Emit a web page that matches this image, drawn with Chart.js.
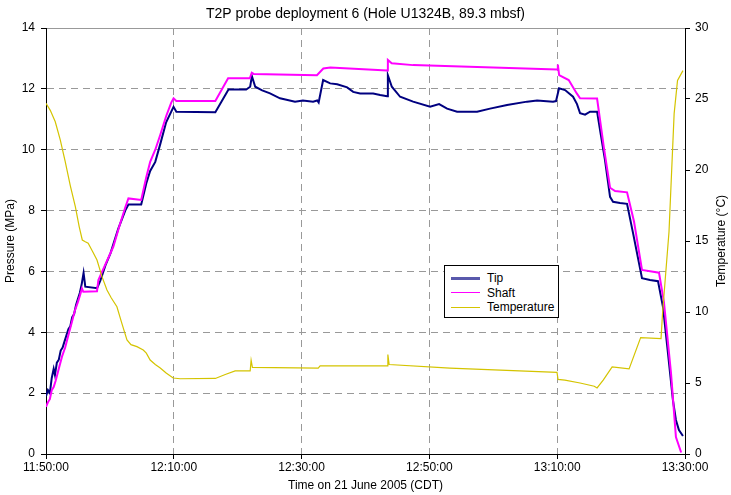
<!DOCTYPE html>
<html>
<head>
<meta charset="utf-8">
<script src="https://cdn.jsdelivr.net/npm/chart.js@4/dist/chart.umd.min.js"></script>
<style>
  html, body { margin: 0; padding: 0; background: #fff; }
  #wrap { position: relative; width: 731px; height: 495px; }
  #legend { position: absolute; left: 444px; top: 265px; width: 113px; height: 51px;
            border: 1px solid #000; background: #fff; font: 12px "Liberation Sans", Arial, sans-serif; color: #000; }
  .item { position: absolute; left: 0; height: 14px; line-height: 14px; white-space: nowrap; }
  .item .sw { position: absolute; left: 6px; width: 29px; }
  .item .tx { position: absolute; left: 42px; top: 0; }
</style>
</head>
<body>
<div id="wrap">
  <canvas id="c" width="731" height="495"></canvas>
  <div id="legend"></div>
</div>
<script>
const chartTitle = 'T2P probe deployment 6 (Hole U1324B, 89.3 mbsf)';
const xAxisTitle = 'Time on 21 June 2005 (CDT)';
const leftAxisTitle = 'Pressure (MPa)';
const rightAxisTitle = 'Temperature (\u00B0C)';
const timeTickLabels = ['11:50:00', '12:10:00', '12:30:00', '12:50:00', '13:10:00', '13:30:00'];
const seriesNames = ['Tip', 'Shaft', 'Temperature'];

// minutes after 11:50:00
const tipMinutes = [0,0.3,0.6,0.9,1.2,1.4,1.7,2.0,2.3,2.6,2.9,3.2,3.5,3.8,4.1,4.4,4.7,5.0,5.3,5.6,5.88,6.15,8.0,8.5,9.3,10.1,11.3,12.4,12.9,14.9,15.7,16.3,17.1,17.9,18.8,19.96,20.4,26.5,28.56,31.33,31.95,32.22,32.74,33.83,35.06,36.62,38.97,40.2,41.8,42.44,42.67,43.37,44.47,45.57,47.13,48.07,49.16,51.2,52.29,53.39,53.5,54.12,55.42,57.45,60.11,61.52,62.77,64.33,67.46,69.49,72.15,75.28,76.85,79.35,79.82,80.29,81.23,82.48,83.1,83.58,84.36,85.14,86.24,86.7,87.48,88.27,88.74,89.83,90.93,91.87,93.27,94.52,95.77,96.55,97.33,98.11,98.58,99.05,99.68];
const tipMPa = [1.9,2.1,2.0,2.5,2.8,2.6,3.0,3.1,3.4,3.5,3.7,3.9,4.1,4.2,4.5,4.6,4.9,5.1,5.3,5.6,5.95,5.5,5.45,5.7,6.2,6.6,7.4,8.0,8.2,8.2,8.9,9.3,9.6,10.2,10.9,11.41,11.25,11.23,11.98,11.98,12.07,12.42,12.07,11.95,11.85,11.69,11.58,11.62,11.58,11.62,11.55,12.29,12.18,12.15,12.05,11.9,11.85,11.85,11.8,11.76,12.45,12.07,11.74,11.58,11.41,11.5,11.35,11.25,11.25,11.35,11.47,11.58,11.62,11.58,11.6,12.02,11.96,11.74,11.5,11.2,11.15,11.25,11.25,10.65,9.66,8.45,8.29,8.25,8.22,7.26,5.78,5.72,5.68,4.84,3.32,1.77,1.12,0.79,0.59];

const shaftMinutes = [0,0.3,0.6,0.9,1.2,1.5,2.0,2.5,3.0,3.5,4.0,4.5,5.0,5.3,5.63,5.84,7.98,8.2,10.53,11.5,12.4,12.9,14.9,15.7,16.3,17.1,17.9,18.8,19.6,19.96,20.4,26.5,28.5,31.9,32.2,32.5,42.4,43.4,44.5,53.4,53.5,54.1,57.45,80.0,80.1,80.3,81.8,83.06,83.58,86.24,87.3,88.27,89.06,90.93,92.02,93.27,95.93,96.7,97.81,98.58,99.4];
const shaftMPa = [1.55,1.7,1.8,2.1,2.2,2.4,2.8,3.2,3.5,3.9,4.3,4.7,5.0,5.2,5.44,5.33,5.35,5.72,6.81,7.5,8.1,8.4,8.35,9.1,9.6,10.0,10.5,11.1,11.55,11.69,11.6,11.6,12.35,12.35,12.53,12.49,12.45,12.67,12.7,12.6,12.95,12.84,12.78,12.64,12.8,12.45,12.29,11.85,11.69,11.68,10.08,8.75,8.64,8.6,7.64,6.05,5.96,5.0,2.66,0.56,0.05];

const tempMinutes = [0,0.67,1.45,2.24,3.0,3.8,4.6,5.2,5.68,6.15,6.6,7.25,7.98,8.76,9.54,10.2,11.1,11.8,12.67,13.3,14.23,15.22,15.7,16.3,17.1,17.88,18.8,19.9,21.0,26.5,28.05,29.6,31.95,32.1,32.3,42.6,42.9,53.4,53.5,53.7,63.2,79.97,80.13,81.2,83.58,85.8,86.24,87.2,88.6,91.25,93.06,96.25,96.5,97.5,98.3,98.83,99.68];
const tempC = [24.7,24.2,23.4,22.1,20.6,18.9,17.4,16.0,15.07,14.95,14.85,14.3,13.66,12.49,11.55,11.0,10.37,9.3,8.03,7.7,7.56,7.32,7.1,6.62,6.3,6.06,5.7,5.35,5.3,5.32,5.6,5.85,5.85,6.6,6.1,6.05,6.2,6.2,7.0,6.3,6.05,5.75,5.25,5.2,5.0,4.77,4.65,5.2,6.13,5.99,8.2,8.13,10.0,15.67,23.97,26.3,27.0];

const pts = (xs, ys) => xs.map((x, i) => ({ x: x, y: ys[i] }));
const FONT = '"Liberation Sans", Arial, sans-serif';
Chart.defaults.font.family = FONT;
Chart.defaults.color = '#000';

const rightTitlePlugin = {
  id: 'rightTitle',
  afterDraw(chart) {
    const { ctx, chartArea } = chart;
    ctx.save();
    ctx.font = '12px ' + FONT;
    ctx.fillStyle = '#000';
    ctx.textAlign = 'center';
    ctx.textBaseline = 'middle';
    ctx.translate(722, (chartArea.top + chartArea.bottom) / 2);
    ctx.rotate(-Math.PI / 2);
    ctx.fillText(rightAxisTitle, 0, 0);
    ctx.restore();
  }
};

const chart = new Chart(document.getElementById('c'), {
  type: 'line',
  data: {
    datasets: [
      { label: seriesNames[0], data: pts(tipMinutes, tipMPa), borderColor: '#000080', backgroundColor: '#000080', borderWidth: 2, yAxisID: 'y', order: 2 },
      { label: seriesNames[1], data: pts(shaftMinutes, shaftMPa), borderColor: '#FF00FF', backgroundColor: '#FF00FF', borderWidth: 2, yAxisID: 'y', order: 1 },
      { label: seriesNames[2], data: pts(tempMinutes, tempC), borderColor: '#D4C400', backgroundColor: '#D4C400', borderWidth: 1.2, yAxisID: 'y2', order: 0 }
    ]
  },
  options: {
    responsive: false,
    animation: false,
    events: [],
    elements: { point: { radius: 0 }, line: { tension: 0 } },
    layout: { padding: 0 },
    plugins: {
      legend: { display: false },
      tooltip: { enabled: false },
      title: { display: true, text: chartTitle, color: '#000', font: { size: 14, weight: 'normal' }, padding: { top: 5.6, bottom: 5.6 } }
    },
    scales: {
      x: {
        type: 'linear', position: 'bottom', min: 0, max: 100,
        ticks: { stepSize: 20, autoSkip: false, maxRotation: 0, padding: 1, font: { size: 12 }, color: '#000',
                 callback: (v) => timeTickLabels[Math.round(v / 20)] },
        grid: { color: '#999', lineWidth: 1, tickColor: '#000', tickLength: 5, tickBorderDash: [], tickWidth: 1 },
        border: { color: '#000', width: 1, dash: [7, 5] },
        title: { display: true, text: xAxisTitle, font: { size: 12 }, color: '#000', padding: { top: 0, bottom: 2 } },
        afterFit: (s) => { s.height = 41; }
      },
      xTop: {
        type: 'linear', position: 'top', min: 0, max: 100,
        ticks: { display: false },
        grid: { drawOnChartArea: false, drawTicks: false },
        border: { color: '#999', width: 1 },
        afterFit: (s) => { s.height = 0; }
      },
      y: {
        type: 'linear', position: 'left', min: 0, max: 14,
        ticks: { stepSize: 2, padding: 6, font: { size: 12 }, color: '#000' },
        grid: { color: '#999', lineWidth: 1, tickColor: '#000', tickLength: 5, tickBorderDash: [], tickWidth: 1 },
        border: { color: '#000', width: 1, dash: [7, 5] },
        title: { display: true, text: leftAxisTitle, font: { size: 12 }, color: '#000', padding: { top: 3, bottom: 0 } },
        afterFit: (s) => { s.width = 46; }
      },
      y2: {
        type: 'linear', position: 'right', min: 0, max: 30,
        ticks: { stepSize: 5, padding: 5, font: { size: 12 }, color: '#000' },
        grid: { drawOnChartArea: false, tickColor: '#000', tickLength: 5, tickWidth: 1 },
        border: { color: '#000', width: 1 },
        afterFit: (s) => { s.width = 46; }
      }
    }
  },
  plugins: [rightTitlePlugin]
});

// HTML legend built from the chart's datasets
const legend = document.getElementById('legend');
const itemTops = [5, 19.5, 34];
chart.data.datasets.forEach((ds, i) => {
  const item = document.createElement('div');
  item.className = 'item';
  item.style.top = itemTops[i] + 'px';
  const sw = document.createElement('div');
  sw.className = 'sw';
  const w = i === 0 ? 3 : 1;
  sw.style.top = (7 - w / 2) + 'px';
  sw.style.borderTop = w + 'px solid ' + ds.borderColor;
  sw.style.opacity = i === 0 ? '0.65' : '1';
  const tx = document.createElement('div');
  tx.className = 'tx';
  tx.textContent = ds.label;
  item.appendChild(sw);
  item.appendChild(tx);
  legend.appendChild(item);
});
</script>
</body>
</html>
